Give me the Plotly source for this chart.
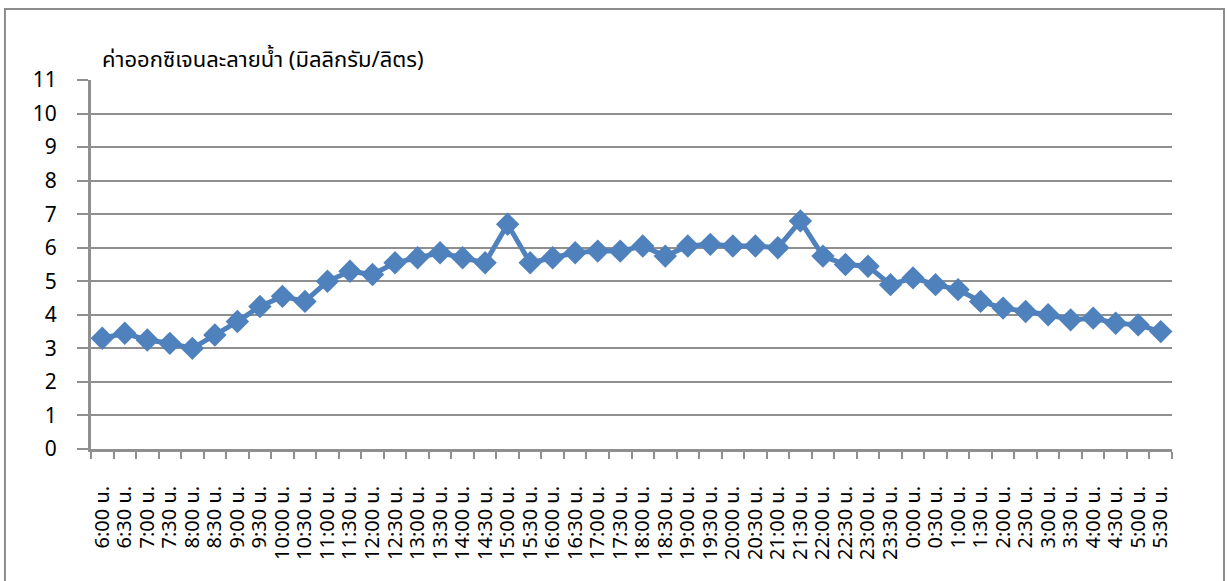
import plotly.graph_objects as go

times = ["6:00", "6:30", "7:00", "7:30", "8:00", "8:30", "9:00", "9:30",
         "10:00", "10:30", "11:00", "11:30", "12:00", "12:30", "13:00", "13:30",
         "14:00", "14:30", "15:00", "15:30", "16:00", "16:30", "17:00", "17:30",
         "18:00", "18:30", "19:00", "19:30", "20:00", "20:30", "21:00", "21:30",
         "22:00", "22:30", "23:00", "23:30", "0:00", "0:30", "1:00", "1:30",
         "2:00", "2:30", "3:00", "3:30", "4:00", "4:30", "5:00", "5:30"]
categories = [t + " น." for t in times]

do_values = [3.3, 3.45, 3.25, 3.15, 3.0, 3.4, 3.8, 4.25,
             4.55, 4.4, 5.0, 5.3, 5.2, 5.55, 5.7, 5.85,
             5.7, 5.55, 6.7, 5.55, 5.7, 5.85, 5.9, 5.9,
             6.05, 5.75, 6.05, 6.1, 6.05, 6.05, 6.0, 6.8,
             5.75, 5.5, 5.45, 4.9, 5.1, 4.9, 4.75, 4.4,
             4.2, 4.1, 4.0, 3.85, 3.9, 3.75, 3.7, 3.5]

y_ticks = list(range(0, 12))
title_text = "ค่าออกซิเจนละลายน้ำ (มิลลิกรัม/ลิตร)"

FONT = "Tahoma, 'Noto Sans Thai', 'Noto Sans', 'DejaVu Sans', sans-serif"
GRID = "#8f8f8f"

fig = go.Figure()
fig.add_trace(go.Scatter(
    x=categories, y=do_values, mode="lines+markers",
    line=dict(color="#4F81BD", width=5),
    marker=dict(symbol="diamond", size=18, color="#4F81BD"),
    showlegend=False, cliponaxis=False, hoverinfo="skip",
))

fig.update_layout(
    width=1227, height=581, autosize=False,
    margin=dict(l=91, r=55, t=80, b=132),
    paper_bgcolor="white", plot_bgcolor="white",
    font=dict(family=FONT, color="black"),
    xaxis=dict(
        type="category", tickangle=-90, tickson="boundaries",
        tickmode="array", tickvals=categories, ticktext=categories,
        ticks="outside", ticklen=7, tickwidth=2, tickcolor=GRID,
        showline=True, linecolor=GRID, linewidth=3,
        showgrid=False, tickfont=dict(size=20, family=FONT),
        ticklabelstandoff=26,
        range=[-0.5, len(categories) - 0.5],
    ),
    yaxis=dict(
        range=[0, 11], tickvals=y_ticks, ticktext=[str(v) for v in y_ticks],
        ticks="outside", ticklen=11, tickwidth=2, tickcolor=GRID,
        showline=True, linecolor=GRID, linewidth=3,
        showgrid=True, gridcolor=GRID, gridwidth=2,
        zeroline=False, tickfont=dict(size=21, family=FONT),
        ticklabelstandoff=16,
    ),
    annotations=[dict(
        text=title_text, xref="paper", yref="paper",
        x=0.008, y=1.054, xanchor="left", yanchor="middle",
        showarrow=False, font=dict(size=22, family=FONT, color="black"),
    )],
    shapes=[dict(
        type="rect", xref="paper", yref="paper",
        x0=-0.0796, x1=1.0481, y0=-0.37, y1=1.1924,
        line=dict(color="#8c8c8c", width=2), layer="below",
    )],
)

fig.write_html(
    "out.html",
    config={"displayModeBar": False},
    post_script="document.body.style.margin='0';document.body.style.overflow='hidden';",
)
